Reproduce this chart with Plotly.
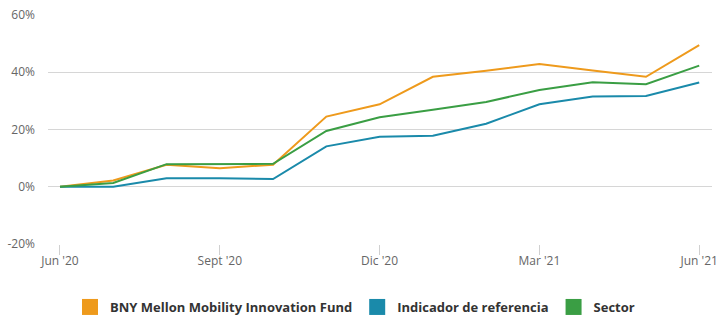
import plotly.graph_objects as go

months = ["Jun '20", "Jul '20", "Ago '20", "Sept '20", "Oct '20", "Nov '20", "Dic '20",
          "Ene '21", "Feb '21", "Mar '21", "Abr '21", "May '21", "Jun '21"]
fund = [0, 2.2, 7.7, 6.5, 7.7, 24.5, 28.8, 38.4, 40.5, 42.9, 40.6, 38.4, 49.5]
benchmark = [0, 0, 3.0, 3.0, 2.7, 14.1, 17.5, 17.8, 22.0, 28.8, 31.5, 31.7, 36.4]
sector = [0, 1.3, 7.9, 8.0, 8.0, 19.5, 24.3, 26.9, 29.6, 33.8, 36.5, 35.8, 42.3]

names = ["BNY Mellon Mobility Innovation Fund", "Indicador de referencia", "Sector"]
colors = ["#EE9A1C", "#1A8AAA", "#3A9E44"]
series = [fund, benchmark, sector]

tick_idx = [0, 3, 6, 9, 12]
tick_text = [months[i] for i in tick_idx]
y_ticks = [-20, 0, 20, 40, 60]

x = list(range(len(months)))
fig = go.Figure()
for name, color, vals in zip(names, colors, series):
    fig.add_trace(go.Scatter(x=x, y=vals, mode="lines", name=name, legendgroup=name,
                             showlegend=False, line=dict(color=color, width=2),
                             hovertemplate="%{y:.1f}%<extra>" + name + "</extra>"))
for name, color in zip(names, colors):
    fig.add_trace(go.Scatter(x=[None], y=[None], mode="markers", name=name, legendgroup=name,
                             marker=dict(symbol="square", size=16, color=color)))

fig.update_layout(
    width=720, height=332,
    margin=dict(l=48, r=8, t=15, b=88),
    paper_bgcolor="white", plot_bgcolor="white",
    font=dict(family="Open Sans, sans-serif", color="#666666", size=12),
    showlegend=True,
    legend=dict(orientation="h", xref="container", yref="container",
                x=70 / 720, xanchor="left", y=(332 - 307) / 332, yanchor="middle",
                font=dict(size=13, color="#333333", weight="bold"),
                itemsizing="trace", tracegroupgap=0),
    xaxis=dict(range=[-0.225, 12.24], tickmode="array", tickvals=tick_idx, ticktext=tick_text,
               showgrid=False, zeroline=False, ticks="outside", ticklen=10, tickcolor="#d0d0d0",
               showline=False, ticklabelstandoff=-4, automargin=False,
               tickfont=dict(size=12, color="#666666")),
    yaxis=dict(range=[-20, 60], tickmode="array", tickvals=y_ticks,
               ticktext=[f"{v}%" for v in y_ticks], showgrid=True, gridcolor="#d6d6d6",
               gridwidth=1, zeroline=False, showline=False, ticks="", ticklabelstandoff=12,
               automargin=False, tickfont=dict(size=12, color="#666666")),
)
fig.write_html("out.html")
